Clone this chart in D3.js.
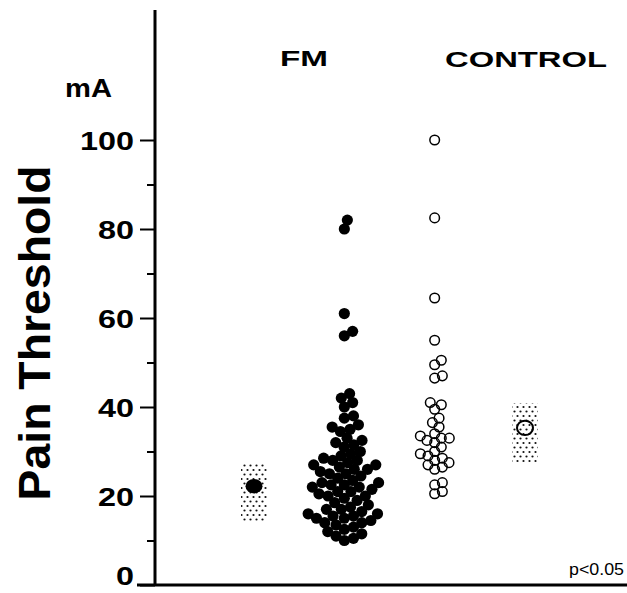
<!DOCTYPE html>
<html>
<head>
<meta charset="utf-8">
<script src="https://cdn.jsdelivr.net/npm/d3@7"></script>
<style>
body { margin: 0; background: #fff; }
text { font-family: "Liberation Sans", Arial, sans-serif; fill: #000; }
</style>
</head>
<body>
<svg class="chart"></svg>
<script>
var width = 627;
var height = 593;

// valores (mA)
var fm = [82, 80, 61, 57, 56,
	43, 42, 41, 40, 38, 37.5, 36, 35.5, 35, 34.5, 33, 32.5, 32, 31.5, 31, 30,
	29.5, 29, 28.5, 28, 28, 27.5, 27, 27, 26.5, 26, 26, 25.5, 25, 25, 24.5, 24,
	23.5, 23, 23, 22.5, 22.5, 22, 22, 21.5, 21, 21, 20.5, 20, 20, 19.5, 19,
	18.5, 18, 17.5, 17, 17, 16.5, 16, 16, 15.5, 15.5, 15, 15, 14.5, 14, 14,
	13.5, 13, 12.5, 12, 11.5, 11, 10.5, 10];
var control = [100, 82.5, 64.5, 55, 50.5, 49.5, 47, 46.5, 41, 40.5, 39.5,
	37.5, 36.5, 35.5, 34, 33.5, 33, 33, 32.5, 32, 31, 30, 29.5, 29, 28.5, 28,
	27.5, 27, 26.5, 26, 23, 22.5, 21, 20.5];
var fmMean = [22.2];
var fmRange = [14.2, 27.6];
var controlMean = [35.3];
var controlRange = [27.6, 40.9];
var majorTicks = [0, 20, 40, 60, 80, 100];
var minorTicks = [10, 30, 50, 70, 90];
var positions = ["FM mean", "FM", "CONTROL", "CONTROL mean"];
var groupLabels = ["FM", "CONTROL"];

var y = d3.scaleLinear().domain([0, 100]).range([585, 140]);
var x = d3.scalePoint().domain(positions).range([254, 525]);

var chart = d3.select(".chart").attr("width", width).attr("height", height);

// padrao pontilhado das caixas
var pat = chart.append("defs").append("pattern")
	.attr("id", "stipple")
	.attr("patternUnits", "userSpaceOnUse")
	.attr("width", 6).attr("height", 9);
pat.append("circle").attr("cx", 1.5).attr("cy", 2).attr("r", 1.1).attr("fill", "#111");
pat.append("circle").attr("cx", 4.5).attr("cy", 6.5).attr("r", 1.1).attr("fill", "#111");

// eixos
var axisX = 155;
chart.append("line")
	.attr("x1", axisX).attr("x2", axisX)
	.attr("y1", 10).attr("y2", y(0))
	.attr("stroke", "#000").attr("stroke-width", 3);
chart.append("line")
	.attr("x1", 137).attr("x2", width)
	.attr("y1", y(0)).attr("y2", y(0))
	.attr("stroke", "#000").attr("stroke-width", 3);

var gMajor = chart.append("g")
	.attr("transform", "translate(" + axisX + ",0)")
	.call(d3.axisLeft(y).tickValues(majorTicks).tickSize(15).tickPadding(6));
gMajor.select(".domain").remove();
gMajor.selectAll("line").attr("stroke-width", 2);
gMajor.selectAll("text")
	.style("font-size", "25px")
	.style("font-weight", "bold")
	.attr("dy", function(d) { return d == 0 ? "-0.02em" : "0.36em"; })
	.attr("textLength", function(d) { return String(d).length * 18; })
	.attr("lengthAdjust", "spacingAndGlyphs");

var gMinor = chart.append("g")
	.attr("transform", "translate(" + axisX + ",0)")
	.call(d3.axisLeft(y).tickValues(minorTicks).tickSize(8).tickFormat(""));
gMinor.select(".domain").remove();
gMinor.selectAll("line").attr("stroke-width", 2);

// textos
chart.append("text")
	.attr("x", 65).attr("y", 97)
	.style("font-size", "25px").style("font-weight", "bold")
	.attr("textLength", 47).attr("lengthAdjust", "spacingAndGlyphs")
	.text("mA");

chart.append("text")
	.attr("transform", "translate(50,333) rotate(-90)")
	.attr("text-anchor", "middle")
	.style("font-size", "44px").style("font-weight", "bold")
	.attr("textLength", 335).attr("lengthAdjust", "spacingAndGlyphs")
	.text("Pain Threshold");

chart.append("text")
	.attr("x", 280).attr("y", 66)
	.style("font-size", "22px").style("font-weight", "bold")
	.attr("textLength", 48).attr("lengthAdjust", "spacingAndGlyphs")
	.text(groupLabels[0]);
chart.append("text")
	.attr("x", 445).attr("y", 67)
	.style("font-size", "22px").style("font-weight", "bold")
	.attr("textLength", 162).attr("lengthAdjust", "spacingAndGlyphs")
	.text(groupLabels[1]);

chart.append("text")
	.attr("x", 569).attr("y", 575)
	.style("font-size", "17px")
	.attr("textLength", 55).attr("lengthAdjust", "spacingAndGlyphs")
	.text("p<0.05");

// caixas das medias
function caixa(pos, range, mean, filled) {
	chart.append("rect")
		.attr("x", x(pos) - 13).attr("width", 26)
		.attr("y", y(range[1])).attr("height", y(range[0]) - y(range[1]))
		.attr("fill", "url(#stipple)");
	chart.selectAll(null)
		.data(mean)
		.enter().append("ellipse")
		.attr("cx", x(pos)).attr("cy", function(d) { return y(d); })
		.attr("rx", filled ? 8.5 : 8).attr("ry", 7.2)
		.attr("fill", filled ? "#000" : "none")
		.attr("stroke", "#000").attr("stroke-width", filled ? 0 : 2);
}
caixa("FM mean", fmRange, fmMean, true);
caixa("CONTROL mean", controlRange, controlMean, false);

// beeswarm simples
function swarm(values, r) {
	var placed = [];
	values.slice().sort(d3.ascending).forEach(function(v) {
		var cy = y(v);
		var cands = [0];
		placed.forEach(function(p) {
			var dy = p.y - cy;
			if (Math.abs(dy) < 2 * r) {
				var dx = Math.sqrt(4 * r * r - dy * dy);
				cands.push(p.x + dx, p.x - dx);
			}
		});
		cands.sort(function(a, b) { return Math.abs(a) - Math.abs(b); });
		var cx = cands.find(function(c) {
			return placed.every(function(p) {
				return (p.x - c) * (p.x - c) + (p.y - cy) * (p.y - cy) >= 4 * r * r - 0.01;
			});
		});
		placed.push({ v: v, x: cx, y: cy });
	});
	return placed;
}

chart.append("g").selectAll("circle")
	.data(swarm(fm, 4.7))
	.enter().append("circle")
	.attr("cx", function(d) { return x("FM") + d.x; })
	.attr("cy", function(d) { return d.y; })
	.attr("r", 5.6)
	.attr("fill", "#000");

chart.append("g").selectAll("circle")
	.data(swarm(control, 4.0))
	.enter().append("circle")
	.attr("cx", function(d) { return x("CONTROL") + d.x; })
	.attr("cy", function(d) { return d.y; })
	.attr("r", 4.8)
	.attr("fill", "none")
	.attr("stroke", "#000")
	.attr("stroke-width", 1.5);
</script>
</body>
</html>
